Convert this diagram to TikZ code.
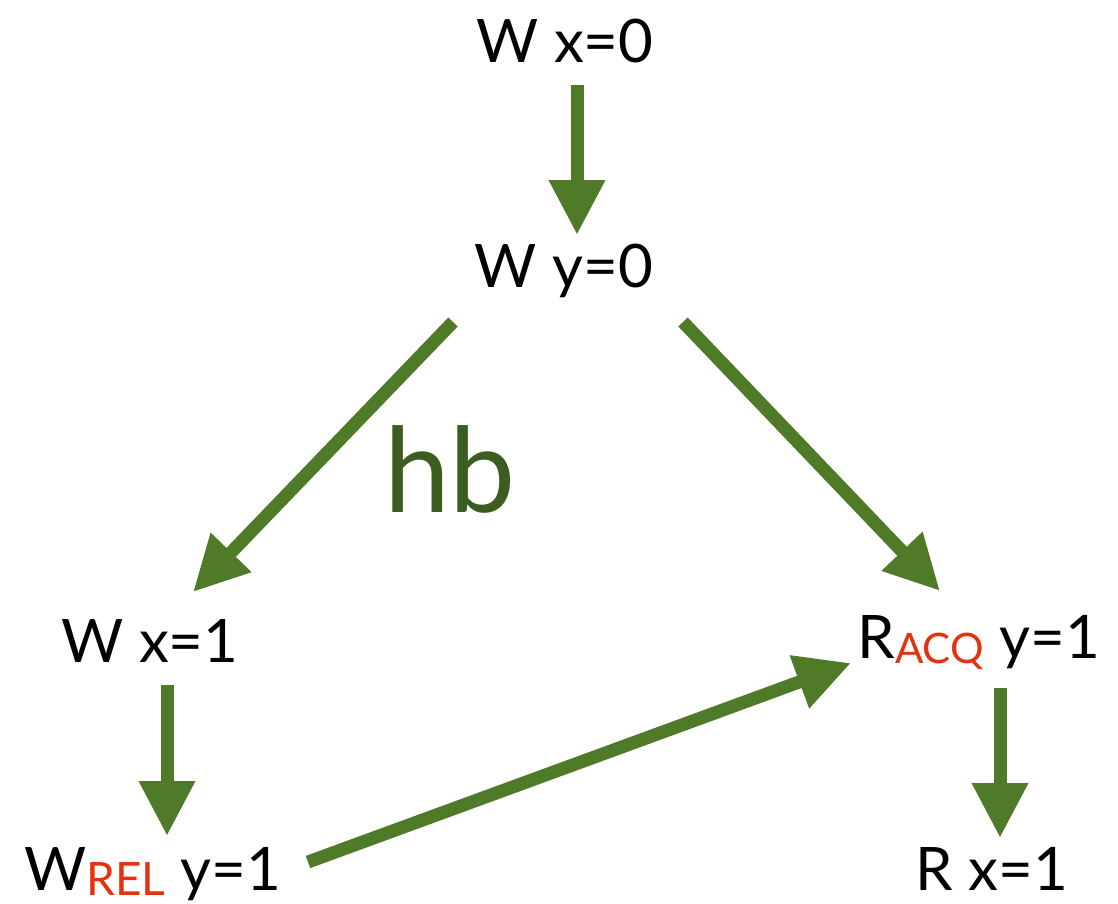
\documentclass[tikz,border=0pt]{standalone}
\usepackage{fontspec}
\setmainfont{Lato}
\usetikzlibrary{arrows.meta}
\definecolor{arrgreen}{HTML}{4F7A28}
\definecolor{hbgreen}{HTML}{3D5C1F}
\definecolor{subred}{HTML}{E3320F}
\newcommand\subtxt[2]{\raisebox{-5pt}{\color{subred}\fontsize{#1}{#1}\selectfont #2}}
\begin{document}
\begin{tikzpicture}[x=1pt,y=-1pt,
  lbl/.style={inner sep=0pt, anchor=base, font=\fontsize{60}{60}\selectfont},
  arr/.style={draw=arrgreen, line width=13pt, -{Triangle[length=55pt,width=53pt]}}]
\useasboundingbox (0,0) rectangle (1118,903);
% labels
\node[lbl] (wx0) at (565,62) {W x=0};
\node[lbl] (wy0) at (564,287) {W y=0};
\node[lbl] (wx1) at (150,662) {W x=1};
\node[lbl, anchor=base west] (wrel) at (24,890) {W\subtxt{46}{REL} y=1};
\node[lbl, anchor=base east] (racq) at (1100,658) {R\subtxt{42}{ACQ} y=1};
\node[lbl] (rx1) at (992,890) {R x=1};
\node[inner sep=0pt, anchor=base, text=hbgreen, font=\fontsize{118}{118}\selectfont] (hb) at (450,512) {hb};
% connector ends
\coordinate (a1s) at (577,85);   \coordinate (a1e) at (577,235);
\coordinate (a2s) at (453,322);  \coordinate (a2e) at (193,592);
\coordinate (a3s) at (683,322);  \coordinate (a3e) at (940,591);
\coordinate (a4s) at (167,685);  \coordinate (a4e) at (167,836);
\coordinate (a5s) at (308,862);  \coordinate (a5e) at (851,663);
\coordinate (a6s) at (1000,688); \coordinate (a6e) at (1000,838);
\draw[arr] (a1s) -- (a1e);
\draw[arr] (a2s) -- (a2e);
\draw[arr] (a3s) -- (a3e);
\draw[arr] (a4s) -- (a4e);
\draw[arr] (a5s) -- (a5e);
\draw[arr] (a6s) -- (a6e);
\end{tikzpicture}
\end{document}
